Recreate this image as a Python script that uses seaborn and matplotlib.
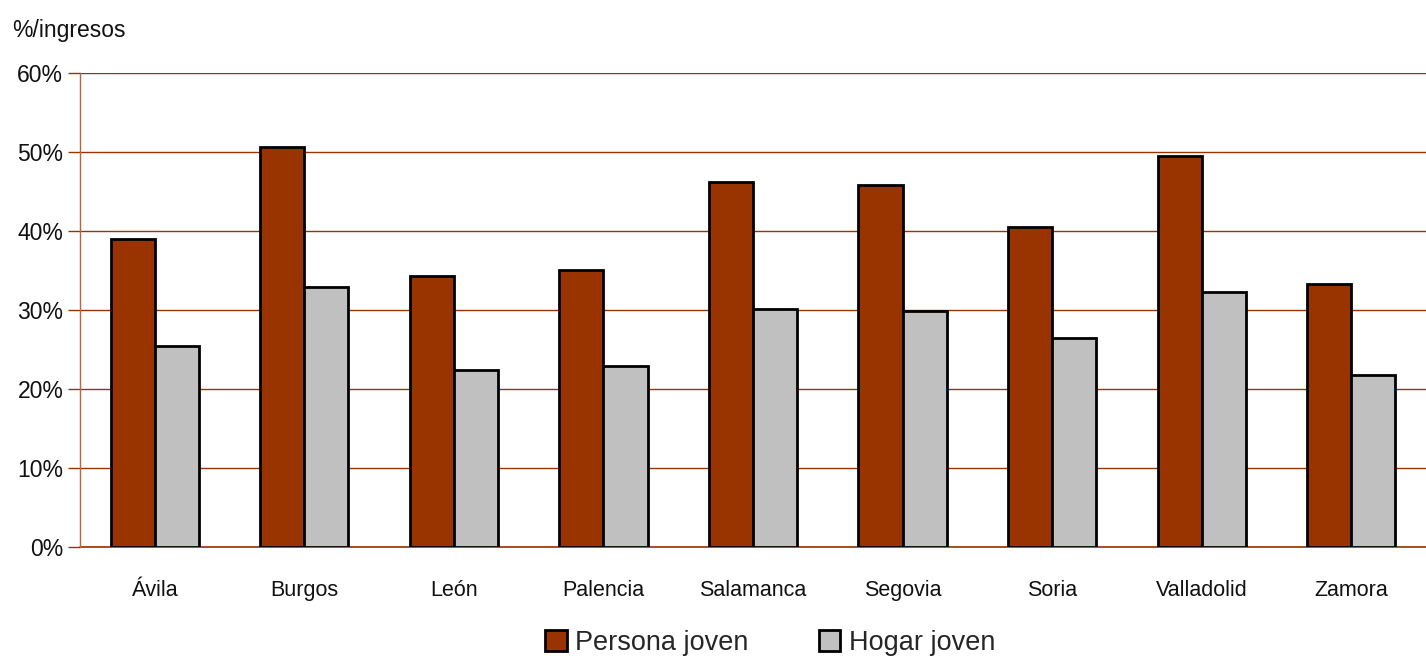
import matplotlib
matplotlib.use("Agg")
import matplotlib.pyplot as plt
import seaborn as sns
import pandas as pd
from matplotlib import font_manager
from matplotlib.ticker import FuncFormatter

provincias = ["Ávila", "Burgos", "León", "Palencia", "Salamanca", "Segovia", "Soria", "Valladolid", "Zamora"]
persona_joven = [39.0, 50.6, 34.3, 35.1, 46.2, 45.8, 40.5, 49.5, 33.3]
hogar_joven = [25.4, 32.9, 22.4, 22.9, 30.1, 29.9, 26.5, 32.3, 21.8]
series = ["Persona joven", "Hogar joven"]
colores = ["#993300", "#C0C0C0"]
yticks = [0, 10, 20, 30, 40, 50, 60]

df = pd.DataFrame({
    "provincia": provincias * 2,
    "serie": [series[0]] * len(provincias) + [series[1]] * len(provincias),
    "valor": persona_joven + hogar_joven,
})

sns.set_theme(style="white")
names = {f.name for f in font_manager.fontManager.ttflist}
fam = "Liberation Sans Narrow" if "Liberation Sans Narrow" in names else "Liberation Sans"
plt.rcParams["font.family"] = [fam, "DejaVu Sans"]

fig = plt.figure(figsize=(14.26, 6.59), dpi=100)
ax = fig.add_axes([80 / 1426, 1 - 547 / 659, 1 - 80 / 1426, (547 - 73) / 659])

sns.barplot(data=df, x="provincia", y="valor", hue="serie", hue_order=series,
            palette=colores, width=0.59, edgecolor="black", linewidth=2,
            saturation=1, ax=ax, legend=True, zorder=3)

grid_c = "#993300"
ax.set_ylim(0, 60)
ax.set_yticks(yticks)
ax.yaxis.set_major_formatter(FuncFormatter(lambda v, p: f"{v:.0f}%"))
ax.yaxis.grid(True, color=grid_c, linewidth=1, zorder=0)
ax.axhline(0, color=grid_c, linewidth=1.2, zorder=2, clip_on=False)
ax.set_axisbelow(True)
for s in ["top", "right", "bottom"]:
    ax.spines[s].set_visible(False)
ax.spines["left"].set_color("#b8643c")
ax.spines["left"].set_linewidth(1)
ax.tick_params(axis="y", which="major", left=True, length=9, color=grid_c,
               width=1, labelsize=16.5, pad=3, labelcolor="#111111")
ax.tick_params(axis="x", bottom=False, labelsize=15.5, pad=18, labelcolor="#111111")
ax.set_xlabel("")
ax.set_ylabel("")
ax.set_xlim(-0.5, len(provincias) - 0.5)

fig.text(12 / 1426, 1 - 30 / 659, "%/ingresos", fontsize=16.5, va="center", ha="left", color="#111111")

handles, labels = ax.get_legend_handles_labels()
ax.legend(handles, labels, loc="center", bbox_to_anchor=(770 / 1426, 1 - 643 / 659),
          bbox_transform=fig.transFigure, ncol=2, frameon=False, fontsize=19.5,
          handlelength=0.8, handleheight=0.8, handletextpad=0.3, columnspacing=2.6)

fig.savefig("out.png", dpi=100)
